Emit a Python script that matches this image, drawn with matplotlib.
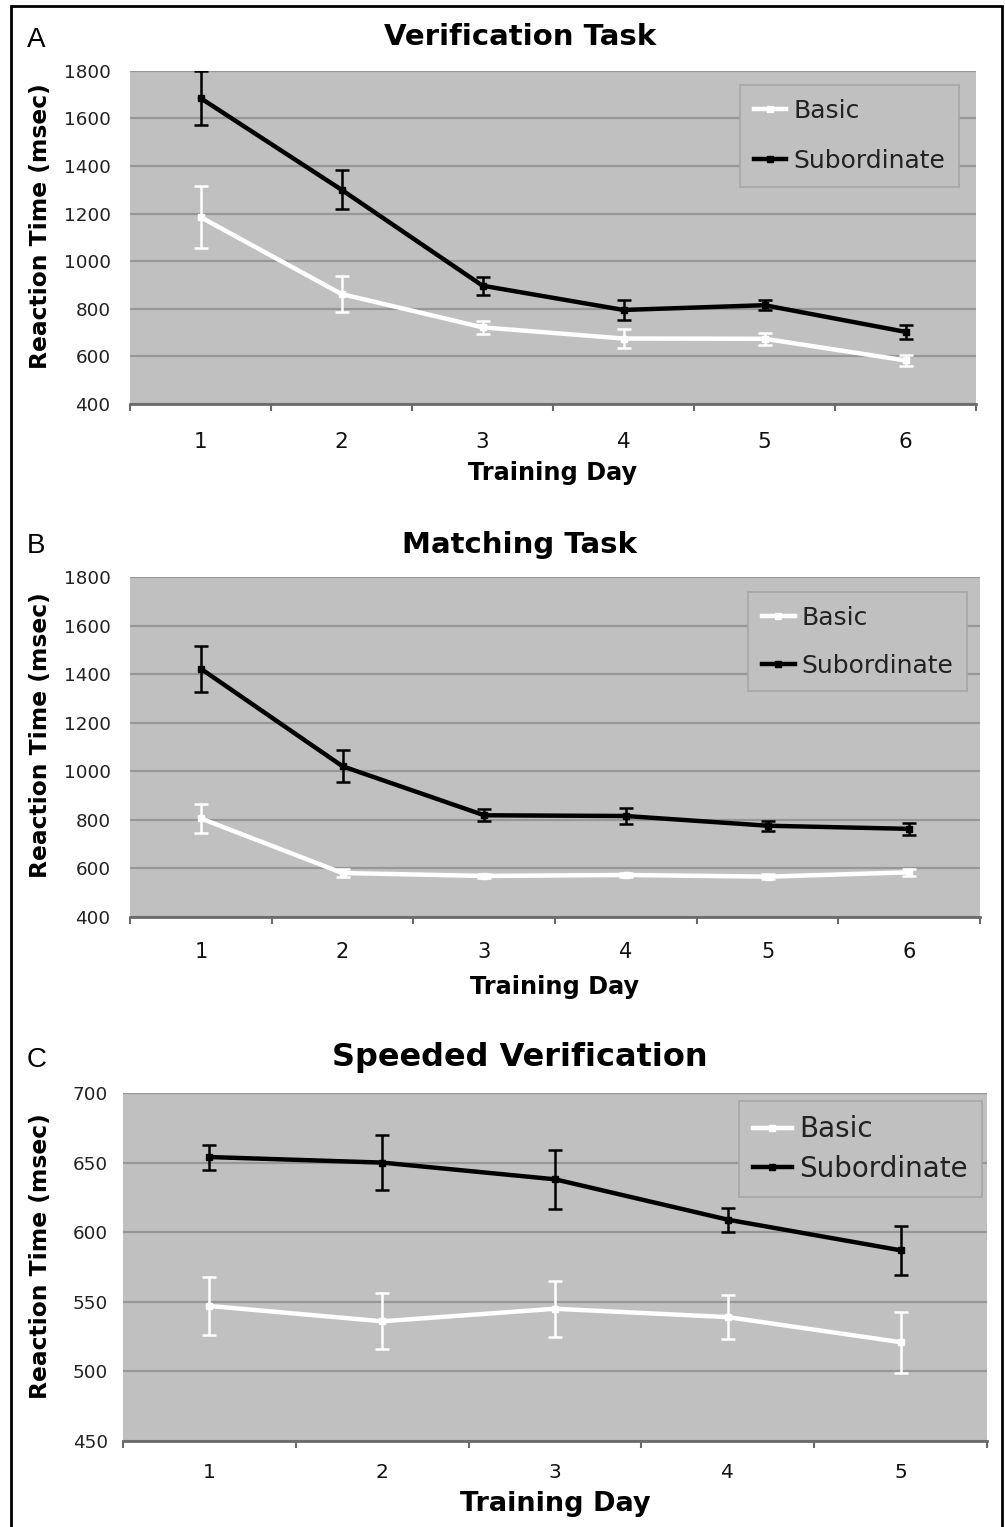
import numpy as np
import matplotlib
matplotlib.use("Agg")
import matplotlib.pyplot as plt
from matplotlib.patches import Rectangle

# ---------------- data ----------------
days_A = [1, 2, 3, 4, 5, 6]
basic_A = [1185, 862, 722, 675, 674, 583]
basic_A_err = [130, 75, 28, 38, 25, 22]
sub_A = [1685, 1300, 897, 795, 815, 703]
sub_A_err = [115, 82, 38, 42, 22, 28]

days_B = [1, 2, 3, 4, 5, 6]
basic_B = [805, 580, 568, 572, 565, 583]
basic_B_err = [58, 15, 10, 10, 10, 15]
sub_B = [1422, 1020, 818, 815, 775, 762]
sub_B_err = [95, 65, 25, 35, 20, 25]

days_C = [1, 2, 3, 4, 5]
basic_C = [547, 536, 545, 539, 521]
basic_C_err = [21, 20, 20, 16, 22]
sub_C = [654, 650, 638, 609, 587]
sub_C_err = [9, 19.5, 21, 8.5, 17.5]

titles = ["Verification Task", "Matching Task", "Speeded Verification"]
letters = ["A", "B", "C"]
series_labels = ["Basic", "Subordinate"]
yticks_AB = [400, 600, 800, 1000, 1200, 1400, 1600, 1800]
yticks_C = [450, 500, 550, 600, 650, 700]
ylabel = "Reaction Time (msec)"
xlabel = "Training Day"

# ---------------- layout ----------------
W, H = 1005, 1527
fig = plt.figure(figsize=(W / 100, H / 100), dpi=100)
fig.patch.set_facecolor("white")

BG = "#c0c0c0"
GRID = "#979797"

def add_axes_px(l, t, r, b):
    return fig.add_axes([l / W, 1 - b / H, (r - l) / W, (b - t) / H])

panels = [
    dict(box=(130, 70.7, 976, 404), days=days_A, b=basic_A, be=basic_A_err,
         s=sub_A, se=sub_A_err, yt=yticks_AB, title_y=45, letter_y=47,
         ylab_y=226, xlab_y=-0.172, xpad=20, ypad=14, leg=(0.980, 0.957),
         title_fs=21, xlab_fs=17.3, xtick_fs=15.5, leg_fs=18, leg_sp=1.04,
         leg_bp=0.55, leg_hl=1.3),
    dict(box=(130, 577, 980, 916.7), days=days_B, b=basic_B, be=basic_B_err,
         s=sub_B, se=sub_B_err, yt=yticks_AB, title_y=553, letter_y=553,
         ylab_y=735, xlab_y=-0.172, xpad=18, ypad=14, leg=(0.985, 0.956),
         title_fs=21, xlab_fs=17.3, xtick_fs=15, leg_fs=18, leg_sp=0.96,
         leg_bp=0.55, leg_hl=1.3),
    dict(box=(123, 1093, 987, 1441), days=days_C, b=basic_C, be=basic_C_err,
         s=sub_C, se=sub_C_err, yt=yticks_C, title_y=1066, letter_y=1067,
         ylab_y=1256, xlab_y=-0.145, xpad=16, ypad=11, leg=(0.994, 0.976),
         title_fs=23, xlab_fs=19.5, xtick_fs=14.5, leg_fs=20, leg_sp=0.41,
         leg_bp=0.5, leg_hl=1.4),
]

for i, p in enumerate(panels):
    ax = add_axes_px(*p["box"])
    ax.set_facecolor(BG)
    n = len(p["days"])
    ax.set_xlim(0.5, n + 0.5)
    ax.set_ylim(p["yt"][0], p["yt"][-1])
    ax.set_yticks(p["yt"])
    ax.set_xticks(p["days"])
    ax.set_xticks(np.arange(0.5, n + 1, 1.0), minor=True)
    ax.tick_params(axis="x", which="major", length=0, pad=p["xpad"],
                   labelsize=p["xtick_fs"], labelcolor="#111")
    ax.tick_params(axis="x", which="minor", length=5, width=1.5,
                   color="#6a6a6a", direction="out")
    ax.tick_params(axis="y", length=0, pad=p["ypad"], labelsize=13.2,
                   labelcolor="#222")
    for side in ["top", "right", "left"]:
        ax.spines[side].set_visible(False)
    ax.spines["bottom"].set_color("#6a6a6a")
    ax.spines["bottom"].set_linewidth(2)
    ax.yaxis.grid(True, color=GRID, lw=1.6)
    ax.set_axisbelow(True)

    # error bars
    ax.errorbar(p["days"], p["b"], yerr=p["be"], fmt="none", ecolor="white",
                elinewidth=1.8, capsize=5, capthick=1.8, zorder=3)
    ax.errorbar(p["days"], p["s"], yerr=p["se"], fmt="none", ecolor="black",
                elinewidth=1.8, capsize=5, capthick=1.8, zorder=4)
    # lines
    ax.plot(p["days"], p["b"], color="white", lw=3.2, marker="s", ms=4.5,
            label=series_labels[0], zorder=5, solid_joinstyle="round")
    ax.plot(p["days"], p["s"], color="black", lw=3.2, marker="s", ms=4.5,
            label=series_labels[1], zorder=6, solid_joinstyle="round")

    leg = ax.legend(loc="upper right", bbox_to_anchor=p["leg"],
                    fontsize=p["leg_fs"], frameon=True, fancybox=False,
                    framealpha=1, facecolor=BG, edgecolor="#a6a6a6",
                    labelspacing=p["leg_sp"], handlelength=p["leg_hl"],
                    handletextpad=0.28, borderpad=p["leg_bp"],
                    borderaxespad=0)
    leg.get_frame().set_linewidth(1.2)
    for t in leg.get_texts():
        t.set_color("#222")

    ax.set_xlabel(xlabel, fontsize=p["xlab_fs"], fontweight="bold")
    ax.xaxis.set_label_coords(0.5, p["xlab_y"])
    ax.xaxis.label.set_va("top")

    fig.text(40 / W, 1 - p["ylab_y"] / H, ylabel, rotation=90, ha="center",
             va="center", fontsize=16.8, fontweight="bold")
    fig.text(520 / W, 1 - p["title_y"] / H, titles[i], ha="center",
             va="baseline", fontsize=p["title_fs"], fontweight="bold")
    fig.text(27 / W, 1 - p["letter_y"] / H, letters[i], ha="left",
             va="baseline", fontsize=20, family="Liberation Sans")

# outer frame
fig.patches.append(Rectangle((11 / W, -0.01), (1002 - 11) / W, 1.01 - 6 / H,
                             transform=fig.transFigure, fill=False,
                             edgecolor="black", lw=2, zorder=10))

fig.savefig("out.png", dpi=100, facecolor="white")
